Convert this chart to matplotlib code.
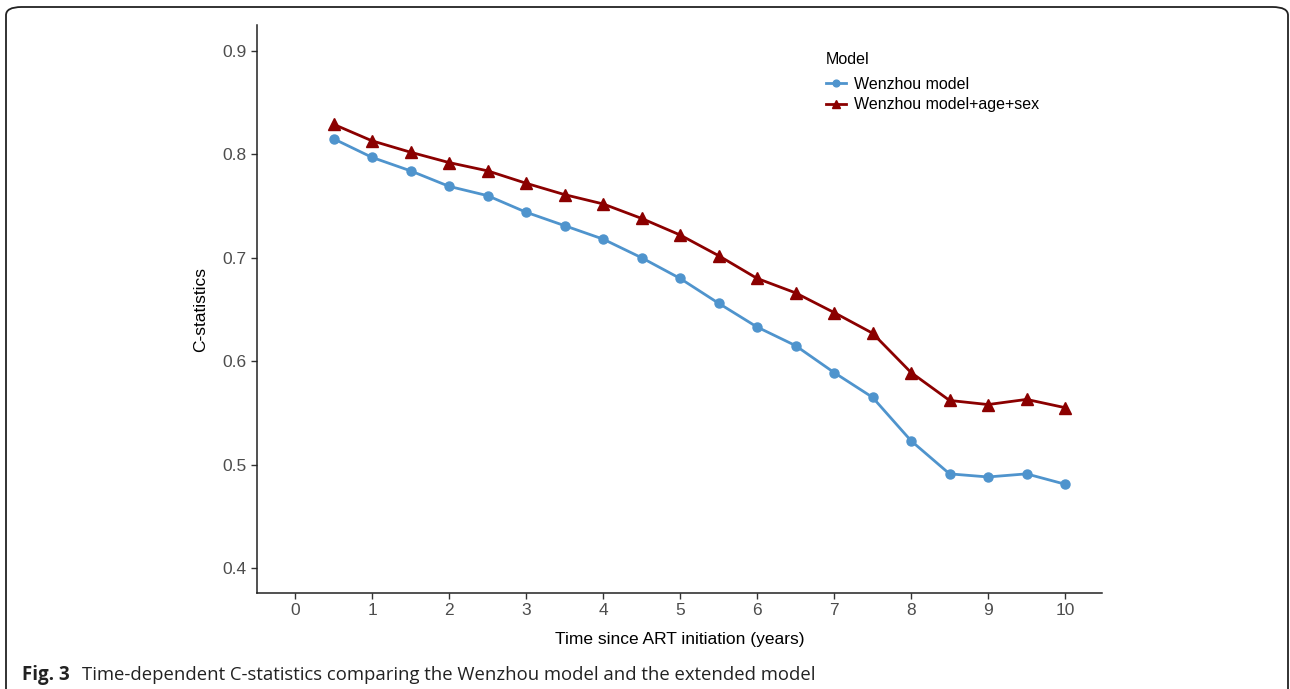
import matplotlib
matplotlib.use("Agg")
import matplotlib.pyplot as plt
from matplotlib.patches import FancyBboxPatch

times = [0.5, 1, 1.5, 2, 2.5, 3, 3.5, 4, 4.5, 5, 5.5, 6, 6.5, 7, 7.5, 8, 8.5, 9, 9.5, 10]
wenzhou = [0.815, 0.797, 0.784, 0.769, 0.760, 0.744, 0.731, 0.718, 0.700, 0.680,
           0.656, 0.633, 0.615, 0.589, 0.565, 0.523, 0.491, 0.488, 0.491, 0.481]
extended = [0.829, 0.813, 0.802, 0.792, 0.784, 0.772, 0.761, 0.752, 0.738, 0.722,
            0.702, 0.680, 0.666, 0.647, 0.627, 0.589, 0.562, 0.558, 0.563, 0.555]
labels = ["Wenzhou model", "Wenzhou model+age+sex"]
xticks = list(range(0, 11))
yticks = [0.4, 0.5, 0.6, 0.7, 0.8, 0.9]

plt.rcParams['font.family'] = ['Liberation Sans', 'DejaVu Sans']

W, H = 1290, 689
fig = plt.figure(figsize=(W / 100, H / 100), dpi=100)
ax = fig.add_axes([257 / W, 1 - 593 / H, (1102 - 257) / W, (593 - 25) / H])

ax.plot(times, wenzhou, color="#4f94cd", marker="o", markersize=6.5, linewidth=2, label=labels[0])
ax.plot(times, extended, color="#8b0000", marker="^", markersize=8, linewidth=2, label=labels[1])

ax.set_xlim(-0.494, 10.48)
ax.set_ylim(0.3758, 0.925)
ax.set_xticks(xticks)
ax.set_xticklabels([str(t) for t in xticks])
ax.set_yticks(yticks)
ax.set_yticklabels([f"{v:.1f}" for v in yticks])
for s in ["top", "right"]:
    ax.spines[s].set_visible(False)
for s in ["left", "bottom"]:
    ax.spines[s].set_color("#222222")
    ax.spines[s].set_linewidth(1.1)
ax.tick_params(axis="both", colors="#333333", labelsize=12.5, length=4, width=1, labelcolor="#4d4d4d")
ax.set_xlabel("Time since ART initiation (years)", fontsize=12.5, labelpad=10)
ax.set_ylabel("C-statistics", fontsize=12.5, labelpad=10)

leg = ax.legend(loc="upper left", bbox_to_anchor=(0.656, 0.978), frameon=False, title="Model",
                fontsize=11.5, title_fontsize=11.5, handlelength=1.3, handletextpad=0.5,
                labelspacing=0.35, markerscale=0.75)
leg._legend_box.align = "left"
leg._legend_box.sep = 7

# rounded border
border = FancyBboxPatch((6 / W, -0.05), (1288 - 6) / W, (1 - 7 / H) + 0.05,
                        boxstyle="round,pad=0,rounding_size=0.012",
                        transform=fig.transFigure, fill=False, edgecolor="#222222",
                        linewidth=1.3, clip_on=False)
fig.add_artist(border)

fig.text(22 / W, 1 - 680 / H, "Fig. 3", fontsize=13.5, fontweight="bold", color="#222222",
         family=["Open Sans", "DejaVu Sans"], va="baseline")
fig.text(82 / W, 1 - 680 / H, "Time-dependent C-statistics comparing the Wenzhou model and the extended model",
         fontsize=13.3, color="#222222", family=["Open Sans", "DejaVu Sans"], va="baseline")

fig.savefig("out.png", dpi=100)
